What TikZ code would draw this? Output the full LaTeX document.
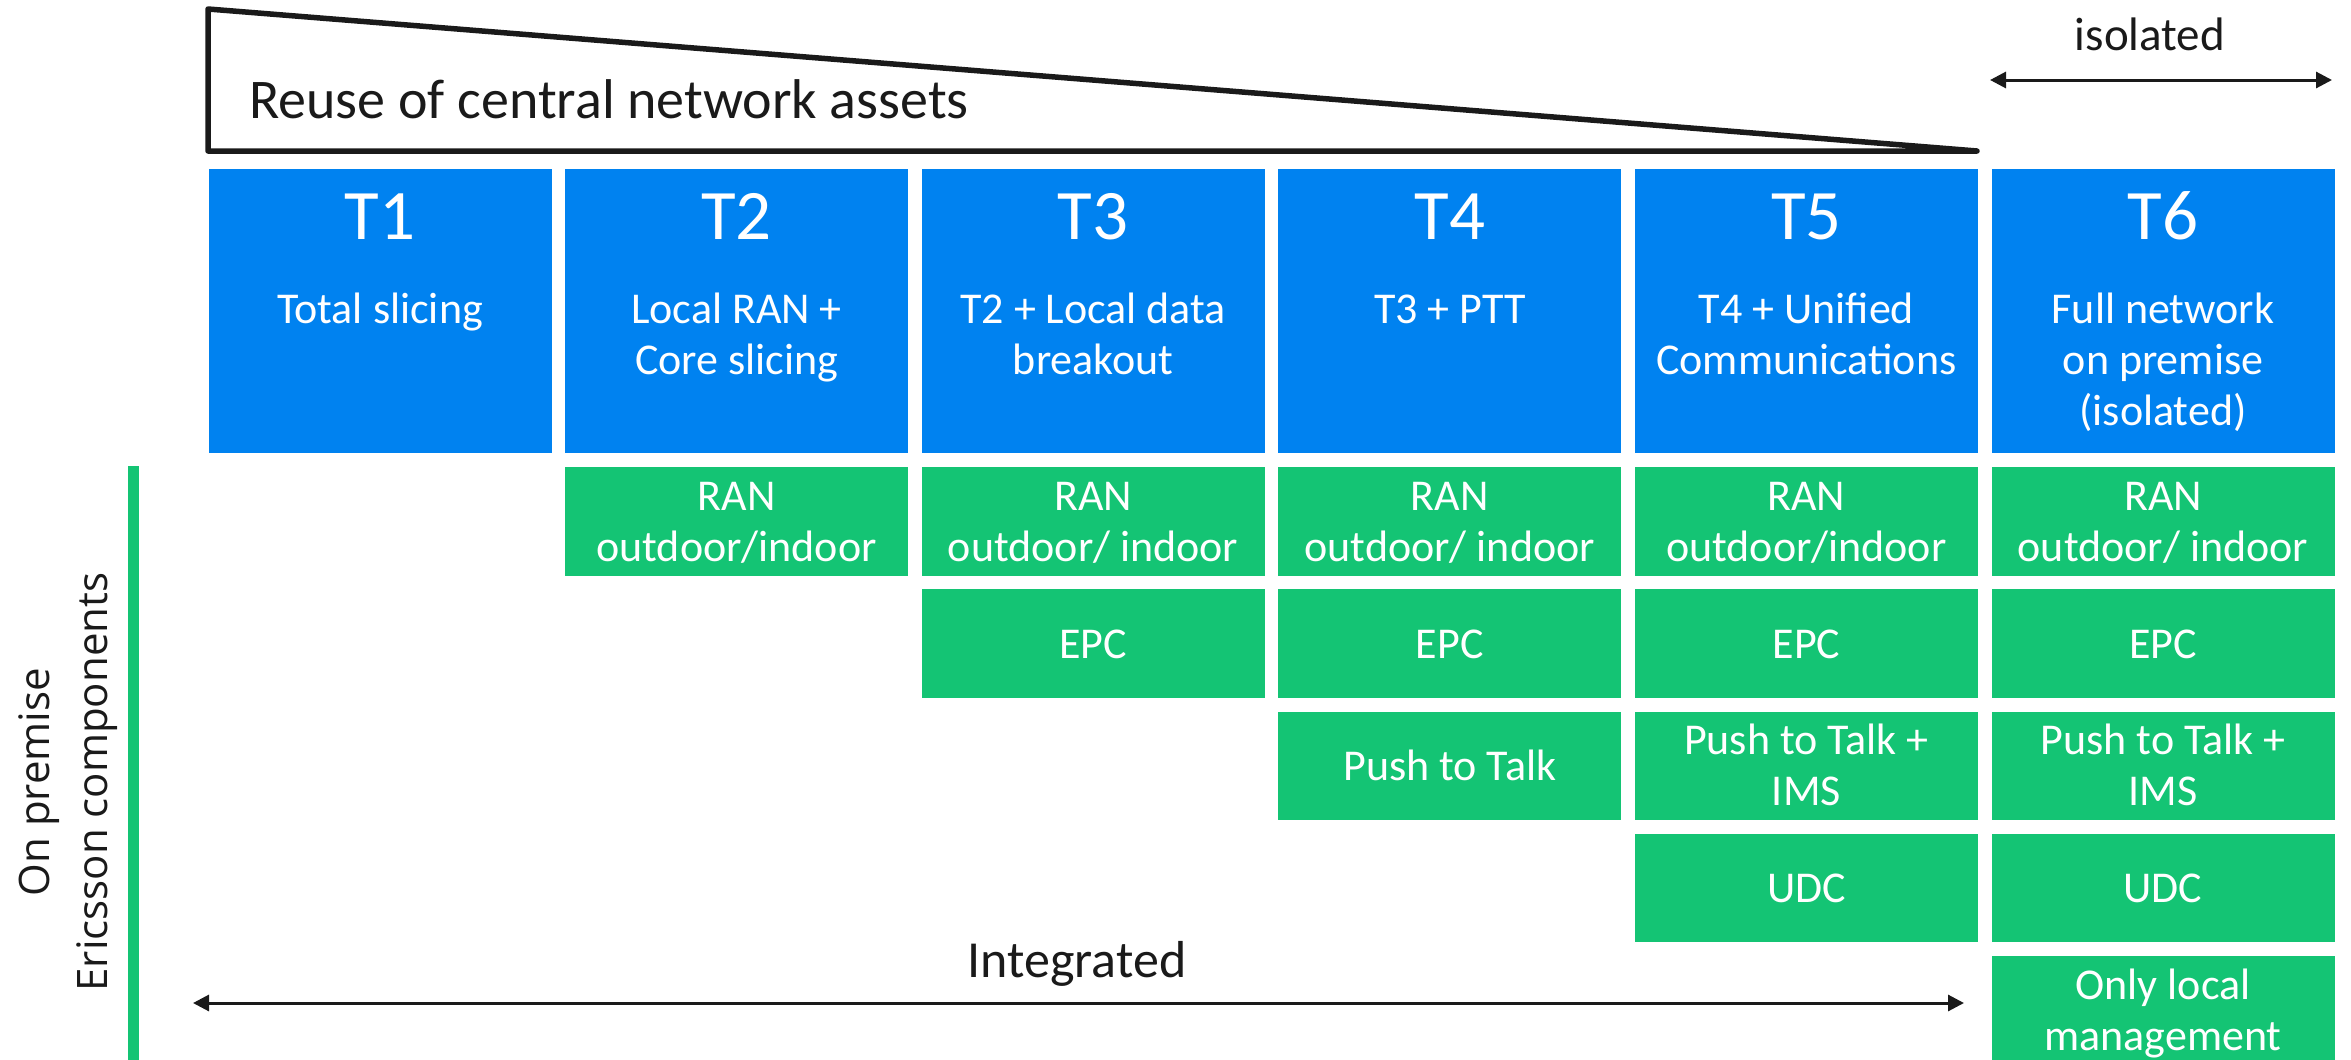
\documentclass[tikz,border=0pt]{standalone}
\usepackage{fontspec}
\setmainfont{Carlito}
\newfontfamily\sidefont{Open Sans}
\usetikzlibrary{arrows.meta}
\definecolor{tierblue}{RGB}{0,130,240}
\definecolor{compgreen}{RGB}{20,196,116}
\definecolor{ink}{RGB}{26,26,26}
% centred multi-line text whose baseline is the first line
\newcommand\stack[1]{\begin{tabular}[t]{@{}c@{}}#1\end{tabular}}
\begin{document}
\begin{tikzpicture}[x=1pt,y=-1pt,
  tier/.style={fill=tierblue, minimum width=343pt, minimum height=284pt, inner sep=0pt, outer sep=0pt},
  comp/.style={fill=compgreen, minimum width=343pt, minimum height=108.5pt, inner sep=0pt, outer sep=0pt},
  tname/.style={text=white, font=\fontsize{71}{80}\selectfont, anchor=base, inner sep=0pt},
  wlabel/.style={text=white, font=\fontsize{44}{51}\selectfont, anchor=base, inner sep=0pt},
  blabel/.style={text=ink, inner sep=0pt},
  span/.style={{Triangle[length=16pt,width=16pt]}-{Triangle[length=16pt,width=16pt]}, line width=3pt, draw=ink}
]
\useasboundingbox (0,0) rectangle (2351,1060);

% wedge: reuse of central assets
\coordinate (wedgeTL) at (208,9);
\coordinate (wedgeBL) at (208,151);
\coordinate (wedgeTip) at (1977,151);
\draw[ink, line width=5.5pt, line join=round] (wedgeTL) -- (wedgeTip) -- (wedgeBL) -- cycle;
\node[blabel, anchor=base west, font=\fontsize{56}{60}\selectfont] (reuse) at (249,118) {Reuse of central network assets};

% isolated span
\node[blabel, anchor=base, font=\fontsize{47}{50}\selectfont] (isolated) at (2150,50) {isolated};
\coordinate (isoL) at (1990,80);
\coordinate (isoR) at (2332,80);
\draw[span] (isoL) -- (isoR);

% tier boxes
\node[tier] (t1) at (380,311) {};
\node[tier] (t2) at (736.6,311) {};
\node[tier] (t3) at (1093.2,311) {};
\node[tier] (t4) at (1449.8,311) {};
\node[tier] (t5) at (1806.4,311) {};
\node[tier] (t6) at (2163,311) {};

\node[tname] (t1n) at (380,239) {T1};
\node[tname] (t2n) at (736.6,239) {T2};
\node[tname] (t3n) at (1093.2,239) {T3};
\node[tname] (t4n) at (1449.8,239) {T4};
\node[tname] (t5n) at (1806.4,239) {T5};
\node[tname] (t6n) at (2163,239) {T6};

\node[wlabel] (t1d) at (380,323) {\stack{Total slicing}};
\node[wlabel] (t2d) at (736.6,323) {\stack{Local RAN +\\Core slicing}};
\node[wlabel] (t3d) at (1093.2,323) {\stack{T2 + Local data\\breakout}};
\node[wlabel] (t4d) at (1449.8,323) {\stack{T3 + PTT}};
\node[wlabel] (t5d) at (1806.4,323) {\stack{T4 + Unified\\Communications}};
\node[wlabel] (t6d) at (2163,323) {\stack{Full network\\on premise\\(isolated)}};

% on-premise components
\node[comp] (ran2) at (736.6,521.25) {};
\node[comp] (ran3) at (1093.2,521.25) {};
\node[comp] (ran4) at (1449.8,521.25) {};
\node[comp] (ran5) at (1806.4,521.25) {};
\node[comp] (ran6) at (2163,521.25) {};
\node[comp] (epc3) at (1093.2,643.5) {};
\node[comp] (epc4) at (1449.8,643.5) {};
\node[comp] (epc5) at (1806.4,643.5) {};
\node[comp] (epc6) at (2163,643.5) {};
\node[comp] (ptt4) at (1449.8,765.75) {};
\node[comp] (ptt5) at (1806.4,765.75) {};
\node[comp] (ptt6) at (2163,765.75) {};
\node[comp] (udc5) at (1806.4,888) {};
\node[comp] (udc6) at (2163,888) {};
\node[comp, minimum height=104pt] (mgmt6) at (2163,1008) {};

\node[wlabel] (ran2t) at (736.6,510.25) {\stack{RAN\\outdoor/indoor}};
\node[wlabel] (ran3t) at (1093.2,510.25) {\stack{RAN\\outdoor/ indoor}};
\node[wlabel] (ran4t) at (1449.8,510.25) {\stack{RAN\\outdoor/ indoor}};
\node[wlabel] (ran5t) at (1806.4,510.25) {\stack{RAN\\outdoor/indoor}};
\node[wlabel] (ran6t) at (2163,510.25) {\stack{RAN\\outdoor/ indoor}};
\node[wlabel] (epc3t) at (1093.2,658) {EPC};
\node[wlabel] (epc4t) at (1449.8,658) {EPC};
\node[wlabel] (epc5t) at (1806.4,658) {EPC};
\node[wlabel] (epc6t) at (2163,658) {EPC};
\node[wlabel] (ptt4t) at (1449.8,780.25) {Push to Talk};
\node[wlabel] (ptt5t) at (1806.4,754.75) {\stack{Push to Talk +\\IMS}};
\node[wlabel] (ptt6t) at (2163,754.75) {\stack{Push to Talk +\\IMS}};
\node[wlabel] (udc5t) at (1806.4,902.5) {UDC};
\node[wlabel] (udc6t) at (2163,902.5) {UDC};
\node[wlabel] (mgmt6t) at (2163,999) {\stack{Only local\\management}};

% side bar and its caption
\fill[compgreen] (128,466) rectangle (139,1060);
\node[blabel, rotate=90, anchor=base, font=\sidefont\fontsize{42}{58}\selectfont] (side) at (49,782) {\stack{On premise\\Ericsson components}};

% integrated span
\node[blabel, anchor=base, font=\fontsize{52}{56}\selectfont] (integrated) at (1077,977) {Integrated};
\coordinate (intL) at (193,1003);
\coordinate (intR) at (1964,1003);
\draw[span] (intL) -- (intR);
\end{tikzpicture}
\end{document}
